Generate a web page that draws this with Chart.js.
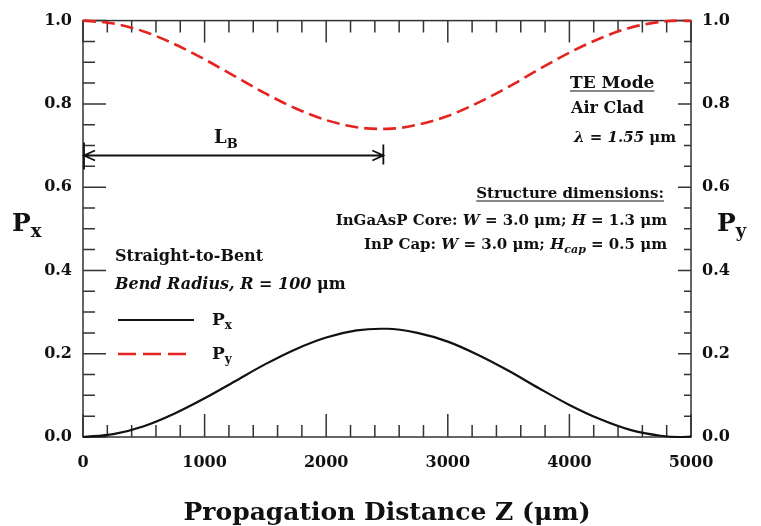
<!DOCTYPE html>
<html>
<head>
<meta charset="utf-8">
<script src="https://cdn.jsdelivr.net/npm/chart.js@4.4.0/dist/chart.umd.min.js"></script>
<style>
  html, body { margin: 0; padding: 0; background: #fff; }
  #wrap { width: 761px; height: 526px; }
</style>
</head>
<body>
<div id="wrap"><canvas id="chart" width="761" height="526"></canvas></div>
<script>
// propagation distance (um) and power fractions
const zValues  = [0, 250, 500, 750, 1000, 1250, 1500, 1750, 2000, 2250, 2450, 2500, 2750, 3000, 3250, 3500, 3750, 4000, 4250, 4500, 4750, 4900, 5000];
const pxValues = [0, 0.007, 0.026, 0.056, 0.093, 0.134, 0.175, 0.211, 0.239, 0.256, 0.260, 0.260, 0.250, 0.229, 0.197, 0.159, 0.117, 0.077, 0.043, 0.017, 0.003, 0, 0.001];
const pyValues = [1, 0.993, 0.974, 0.944, 0.907, 0.866, 0.825, 0.789, 0.761, 0.744, 0.740, 0.740, 0.750, 0.771, 0.803, 0.841, 0.883, 0.923, 0.957, 0.983, 0.997, 1, 0.999];
const xTickValues = [0, 1000, 2000, 3000, 4000, 5000];
const yTickValues = [0, 0.2, 0.4, 0.6, 0.8, 1.0];
const lbEnd = 2470;     // beat length arrow end (um)
const lbLevel = 0.676;  // height of the arrow

const SERIF = '"DejaVu Serif", "Liberation Serif", serif';
const INK = '#333';
const RED = '#e5231f';

function font(size, italic) {
  return (italic ? 'italic ' : '') + 'bold ' + size + 'px ' + SERIF;
}

// draw text made of runs: [text, italic, sub]
function drawRuns(ctx, parts, x, y, align, size) {
  const subSize = Math.round(size * 0.7);
  let w = 0;
  parts.forEach(p => {
    ctx.font = font(p[2] ? subSize : size, p[1]);
    w += ctx.measureText(p[0]).width;
  });
  let cx = align === 'right' ? x - w : align === 'center' ? x - w / 2 : x;
  const start = cx;
  ctx.textBaseline = 'alphabetic';
  ctx.textAlign = 'left';
  parts.forEach(p => {
    ctx.font = font(p[2] ? subSize : size, p[1]);
    ctx.fillText(p[0], cx, p[2] ? y + size * 0.25 : y);
    cx += ctx.measureText(p[0]).width;
  });
  return { left: start, width: w };
}

const decorations = {
  id: 'decorations',
  beforeDatasetsDraw(chart) {
    const ctx = chart.ctx;
    const a = chart.chartArea;
    const xs = chart.scales.x, ys = chart.scales.y;
    ctx.save();
    ctx.strokeStyle = INK;
    ctx.lineWidth = 1.5;
    ctx.strokeRect(a.left, a.top, a.right - a.left, a.bottom - a.top);
    ctx.beginPath();
    for (let v = 0; v <= 5000; v += 200) {
      const px = xs.getPixelForValue(v);
      const major = v % 1000 === 0;
      ctx.moveTo(px, a.bottom);
      ctx.lineTo(px, a.bottom - (major ? 23 : 12));
      ctx.moveTo(px, a.top);
      ctx.lineTo(px, a.top + (major ? 22 : 12));
    }
    for (let i = 0; i <= 20; i++) {
      const py = ys.getPixelForValue(i * 0.05);
      const major = i % 4 === 0;
      ctx.moveTo(a.left, py);
      ctx.lineTo(a.left + (major ? 23 : 12), py);
      ctx.moveTo(a.right, py);
      ctx.lineTo(a.right - (major ? 13 : 7), py);
    }
    ctx.stroke();
    ctx.restore();
  },
  afterDatasetsDraw(chart) {
    const ctx = chart.ctx;
    const xs = chart.scales.x, ys = chart.scales.y;
    ctx.save();
    ctx.fillStyle = '#111';
    ctx.strokeStyle = '#111';

    // axis titles
    drawRuns(ctx, [['Propagation Distance Z (\u03bcm)', false, false]], 387, 520, 'center', 25);
    drawRuns(ctx, [['P', false, false], ['x', false, true]], 12, 231, 'left', 25);
    drawRuns(ctx, [['P', false, false], ['y', false, true]], 717, 231, 'left', 25);

    // beat length arrow
    const x0 = xs.getPixelForValue(0), x1 = xs.getPixelForValue(lbEnd);
    const yA = ys.getPixelForValue(lbLevel);
    ctx.lineWidth = 1.8;
    ctx.beginPath();
    ctx.moveTo(x0, yA); ctx.lineTo(x1, yA);
    ctx.moveTo(x0 + 1, yA - 13); ctx.lineTo(x0 + 1, yA + 14);
    ctx.moveTo(x1, yA - 11); ctx.lineTo(x1, yA + 9);
    ctx.moveTo(x0 + 12, yA - 5); ctx.lineTo(x0 + 1, yA); ctx.lineTo(x0 + 12, yA + 5);
    ctx.moveTo(x1 - 11, yA - 5); ctx.lineTo(x1, yA); ctx.lineTo(x1 - 11, yA + 5);
    ctx.stroke();
    drawRuns(ctx, [['L', false, false], ['B', false, true]], 214, 143, 'left', 18);

    // mode info
    let r = drawRuns(ctx, [['TE Mode', false, false]], 570, 88, 'left', 17);
    ctx.lineWidth = 1.2;
    ctx.beginPath(); ctx.moveTo(r.left, 91); ctx.lineTo(r.left + r.width, 91); ctx.stroke();
    drawRuns(ctx, [['Air Clad', false, false]], 571, 113, 'left', 16);
    drawRuns(ctx, [['\u03bb = 1.55', true, false], [' \u03bcm', false, false]], 574, 142, 'left', 15);

    // structure dimensions
    r = drawRuns(ctx, [['Structure dimensions:', false, false]], 664, 198, 'right', 15);
    ctx.beginPath(); ctx.moveTo(r.left, 201); ctx.lineTo(r.left + r.width, 201); ctx.stroke();
    drawRuns(ctx, [['InGaAsP Core: ', false, false], ['W', true, false], [' = 3.0 \u03bcm; ', false, false],
      ['H', true, false], [' = 1.3 \u03bcm', false, false]], 667, 225, 'right', 15);
    drawRuns(ctx, [['InP Cap: ', false, false], ['W', true, false], [' = 3.0 \u03bcm; ', false, false],
      ['H', true, false], ['cap', true, true], [' = 0.5 \u03bcm', false, false]], 667, 249, 'right', 15);

    // legend block
    drawRuns(ctx, [['Straight-to-Bent', false, false]], 115, 261, 'left', 16);
    drawRuns(ctx, [['Bend Radius, R = 100', true, false], [' \u03bcm', false, false]], 115, 289, 'left', 16);
    ctx.lineWidth = 2;
    ctx.strokeStyle = '#111';
    ctx.beginPath(); ctx.moveTo(118, 320); ctx.lineTo(194, 320); ctx.stroke();
    ctx.strokeStyle = RED;
    ctx.lineWidth = 2.6;
    ctx.setLineDash([18, 7]);
    ctx.beginPath(); ctx.moveTo(118, 354); ctx.lineTo(186, 354); ctx.stroke();
    ctx.setLineDash([]);
    drawRuns(ctx, [['P', false, false], ['x', false, true]], 212, 325, 'left', 17);
    drawRuns(ctx, [['P', false, false], ['y', false, true]], 212, 359, 'left', 17);
    ctx.restore();
  }
};

const tickFont = { family: SERIF, size: 16, weight: 'bold' };
const yTickCfg = {
  stepSize: 0.2, padding: 11, color: '#111', font: tickFont,
  callback: v => v.toFixed(1)
};

new Chart(document.getElementById('chart'), {
  type: 'line',
  data: {
    datasets: [
      {
        label: 'Px',
        data: zValues.map((z, i) => ({ x: z, y: pxValues[i] })),
        borderColor: '#111', borderWidth: 2.2,
        pointRadius: 0, cubicInterpolationMode: 'monotone', clip: false
      },
      {
        label: 'Py',
        data: zValues.map((z, i) => ({ x: z, y: pyValues[i] })),
        borderColor: RED, borderWidth: 2.6, borderDash: [13, 6],
        pointRadius: 0, cubicInterpolationMode: 'monotone', clip: false
      }
    ]
  },
  options: {
    responsive: false,
    animation: false,
    devicePixelRatio: 1,
    layout: { padding: { top: 17, left: 0, right: 0, bottom: 0 } },
    plugins: { legend: { display: false }, tooltip: { enabled: false } },
    scales: {
      x: {
        type: 'linear', min: 0, max: 5000,
        afterBuildTicks: s => { s.ticks = xTickValues.map(v => ({ value: v })); },
        ticks: { padding: 16, color: '#111', font: tickFont, maxRotation: 0, callback: v => String(v) },
        grid: { display: false, drawTicks: false },
        border: { display: false },
        afterFit: s => { s.height = 89; }
      },
      y: {
        position: 'left', min: 0, max: 1,
        afterBuildTicks: s => { s.ticks = yTickValues.map(v => ({ value: v })); },
        ticks: yTickCfg,
        grid: { display: false, drawTicks: false },
        border: { display: false },
        afterFit: s => { s.width = 83; }
      },
      y2: {
        position: 'right', min: 0, max: 1,
        afterBuildTicks: s => { s.ticks = yTickValues.map(v => ({ value: v })); },
        ticks: yTickCfg,
        grid: { display: false, drawTicks: false },
        border: { display: false },
        afterFit: s => { s.width = 70; }
      }
    }
  },
  plugins: [decorations]
});
</script>
</body>
</html>
